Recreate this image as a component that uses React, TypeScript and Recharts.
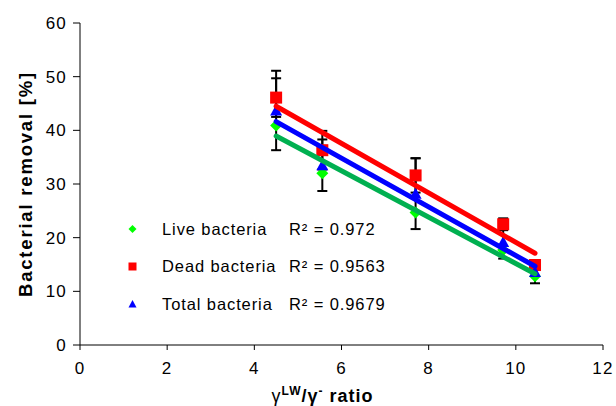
import { ScatterChart, Scatter, XAxis, YAxis, Legend } from 'recharts';

// gamma LW / gamma- ratio of each sample
const ratio = [4.5, 5.56, 7.7, 9.71, 10.44];
// bacterial removal in %
const liveRemoval = [40.9, 32.0, 24.7, 17.7, 12.8];
const deadRemoval = [46.1, 36.3, 31.6, 22.5, 14.9];
const totalRemoval = [43.7, 33.5, 28.2, 19.2, 13.6];
// error bar half widths
const deadError = [3.6, 3.6, 3.2, 1.1, 0.9];
const totalError = [7.4, 4.8, 6.6, 3.1, 2.1];

const seriesNames = ['Live bacteria', 'Dead bacteria', 'Total bacteria'];
const rSquared = ['0.972', '0.9563', '0.9679'];
const xTicks = [0, 2, 4, 6, 8, 10, 12];
const yTicks = [0, 10, 20, 30, 40, 50, 60];

const FONT = '"Liberation Sans", Arial, sans-serif';
const LIME = '#00FF00';
const GREEN = '#00B050';
const RED = '#FF0000';
const BLUE = '#0000FF';

const toPoints = (ys: number[]) => ratio.map((x, i) => ({ x, y: ys[i] }));

const liveData = toPoints(liveRemoval);
const deadData = toPoints(deadRemoval);
const totalData = toPoints(totalRemoval);

// each error bar is a two point segment (low, high) drawn through the scales
const errorSegments = [
  ...ratio.map((x, i) => [
    { x, y: deadRemoval[i] - deadError[i] },
    { x, y: deadRemoval[i] + deadError[i] },
  ]),
  ...ratio.map((x, i) => [
    { x, y: totalRemoval[i] - totalError[i] },
    { x, y: totalRemoval[i] + totalError[i] },
  ]),
];

const diamond = (cx: number, cy: number, r: number) => (
  <polygon points={`${cx},${cy - r} ${cx + r},${cy} ${cx},${cy + r} ${cx - r},${cy}`} fill={LIME} />
);
const square = (cx: number, cy: number, r: number) => (
  <rect x={cx - r} y={cy - r} width={2 * r} height={2 * r} fill={RED} />
);
const triangle = (cx: number, cy: number, r: number) => (
  <polygon points={`${cx},${cy - r} ${cx + r},${cy + r * 0.85} ${cx - r},${cy + r * 0.85}`} fill={BLUE} />
);
const markers = [diamond, square, triangle];

const Nothing = () => <g />;
const Cap = (p: any) => (
  <line x1={p.cx - 5} x2={p.cx + 5} y1={p.cy} y2={p.cy} stroke="#000" strokeWidth={2} />
);

const XTick = ({ x, y, payload }: any) => (
  <text x={x} y={y} dy={21.5} textAnchor="middle" fontFamily={FONT} fontSize={17} letterSpacing={1.2} fill="#000">
    {payload.value}
  </text>
);

const YTick = ({ x, y, payload }: any) => (
  <text x={x} y={y} dx={-4} dy={6} textAnchor="end" fontFamily={FONT} fontSize={17} letterSpacing={1.2} fill="#000">
    {payload.value}
  </text>
);

const XTitle = ({ viewBox }: any) => {
  const cx = viewBox.x + viewBox.width / 2 - 19;
  const y = viewBox.y + 57;
  return (
    <text x={cx} y={y} textAnchor="middle" fontFamily={FONT} fontSize={18} fill="#000" letterSpacing={1}>
      <tspan>γ</tspan>
      <tspan fontSize={12} fontWeight="bold" dy={-7}>LW</tspan>
      <tspan fontWeight="bold" dy={7}>/γ</tspan>
      <tspan fontSize={12} fontWeight="bold" dy={-7}>-</tspan>
      <tspan fontWeight="bold" dy={7}> ratio</tspan>
    </text>
  );
};

const YTitle = ({ viewBox }: any) => {
  const cy = viewBox.y + viewBox.height / 2;
  return (
    <text
      x={31.5}
      y={cy}
      transform={`rotate(-90 31.5 ${cy})`}
      textAnchor="middle"
      fontFamily={FONT}
      fontSize={18.5}
      fontWeight="bold"
      letterSpacing={1.8}
      fill="#000"
    >
      Bacterial removal [%]
    </text>
  );
};

const LegendBox = () => (
  <svg width={270} height={110} style={{ display: 'block' }}>
    {seriesNames.map((name, i) => {
      const y = 14 + i * 37.5;
      return (
        <g key={name}>
          {markers[i](12.5, y, 4)}
          <text x={42} y={y + 5.5} fontFamily={FONT} fontSize={16.5} letterSpacing={0.9} fill="#000">
            {name}
          </text>
          <text x={169} y={y + 5.5} fontFamily={FONT} fontSize={16.5} letterSpacing={0.9} fill="#000">
            R² = {rSquared[i]}
          </text>
        </g>
      );
    })}
  </svg>
);

export default function App() {
  return (
    <div style={{ position: 'absolute', left: 0, top: 0, width: 616, height: 406, background: '#fff' }}>
      <ScatterChart width={616} height={406} margin={{ top: 23, right: 13, bottom: 0, left: 0 }}>
        <XAxis
          type="number"
          dataKey="x"
          domain={[0, 12]}
          ticks={xTicks}
          interval={0}
          height={61}
          tickSize={5}
          tickMargin={2}
          axisLine={{ stroke: '#000' }}
          tickLine={{ stroke: '#000' }}
          tick={<XTick />}
          label={XTitle}
        />
        <YAxis
          type="number"
          dataKey="y"
          domain={[0, 60]}
          ticks={yTicks}
          interval={0}
          width={80}
          tickSize={7}
          tickMargin={2}
          axisLine={{ stroke: '#000' }}
          tickLine={{ stroke: '#000' }}
          tick={<YTick />}
          label={YTitle}
        />
        <Legend
          layout="horizontal"
          verticalAlign="middle"
          align="center"
          content={<LegendBox />}
          wrapperStyle={{ position: 'absolute', left: 120, top: 215, width: 270, height: 110 }}
        />

        {/* error bars first so they sit under the markers */}
        {errorSegments.map((seg, i) => (
          <Scatter
            key={`err-${i}`}
            name={`err-${i}`}
            data={seg}
            shape={Cap}
            line={{ stroke: '#000', strokeWidth: 2 }}
            lineType="joint"
            legendType="none"
            isAnimationActive={false}
          />
        ))}

        <Scatter name={seriesNames[0]} data={liveData} shape={(p: any) => diamond(p.cx, p.cy, 6)} isAnimationActive={false} />
        <Scatter name={seriesNames[1]} data={deadData} shape={(p: any) => square(p.cx, p.cy, 6)} isAnimationActive={false} />
        <Scatter name={seriesNames[2]} data={totalData} shape={(p: any) => triangle(p.cx, p.cy, 6)} isAnimationActive={false} />

        {/* linear trend lines */}
        <Scatter
          name="dead-fit"
          data={deadData}
          shape={Nothing}
          line={{ stroke: RED, strokeWidth: 5, strokeLinecap: 'round' }}
          lineType="fitting"
          legendType="none"
          isAnimationActive={false}
        />
        <Scatter
          name="total-fit"
          data={totalData}
          shape={Nothing}
          line={{ stroke: BLUE, strokeWidth: 5, strokeLinecap: 'round' }}
          lineType="fitting"
          legendType="none"
          isAnimationActive={false}
        />
        <Scatter
          name="live-fit"
          data={liveData}
          shape={Nothing}
          line={{ stroke: GREEN, strokeWidth: 5, strokeLinecap: 'round' }}
          lineType="fitting"
          legendType="none"
          isAnimationActive={false}
        />
      </ScatterChart>
    </div>
  );
}
